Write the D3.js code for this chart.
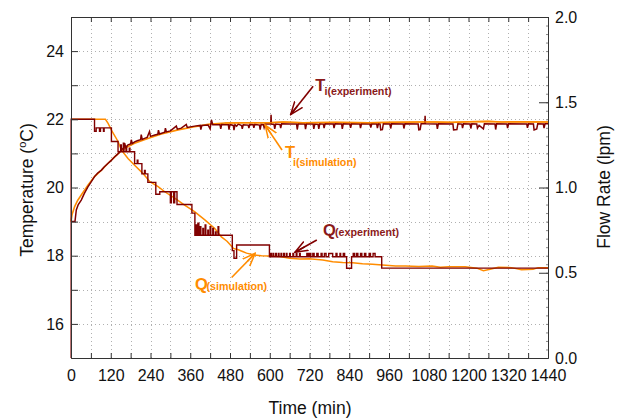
<!DOCTYPE html>
<html><head><meta charset="utf-8">
<script src="https://cdn.jsdelivr.net/npm/d3@7"></script>
<style>
body{margin:0;background:#fff;}
svg{display:block;font-family:"Liberation Sans",Arial,sans-serif;}
</style>
</head><body>
<svg id="chart" width="627" height="419"></svg>
<script>
// ---------- data ----------
const timeTicks = [0,120,240,360,480,600,720,840,960,1080,1200,1320,1440];
const timeMinor = [60,180,300,420,540,660,780,900,1020,1140,1260,1380];
const tempTicks = [16,18,20,22,24];
const tempMinor = [17,19,21,23];
const flowTicks = [0.0,0.5,1.0,1.5,2.0];

// Ti experiment (time min, temperature °C)
const tExp = [[0,19.0],[12,19.0],[16,19.34],[22,19.5],[31,19.63],[40,19.82],[51,20.02],[60,20.15],[71,20.32],[80,20.42],[92,20.51],[100,20.6],[112,20.71],[120,20.78],[132,20.9],[140,20.97],[152,21.1],[160,21.17],[162,21.3],[165,21.18],[172,21.25],[180,21.28],[182,21.4],[185,21.29],[192,21.34],[200,21.37],[210,21.4],[212,21.55],[215,21.41],[222,21.44],[230,21.47],[237,21.64],[240,21.5],[253,21.54],[262,21.56],[264,21.68],[267,21.57],[283,21.62],[285,21.74],[288,21.63],[300,21.66],[318,21.8],[321,21.71],[333,21.74],[348,21.85],[351,21.76],[373,21.8],[390,21.82],[392,21.7],[395,21.82],[414,21.83],[420,21.72],[424,21.98],[428,21.84],[450,21.84],[452,21.72],[455,21.85],[475,21.84],[477,21.7],[480,21.85],[490,21.82],[492,21.68],[495,21.84],[500,21.8],[505,21.86],[515,21.82],[517,21.72],[520,21.84],[535,21.83],[537,21.74],[540,21.85],[550,21.84],[552,21.75],[555,21.85],[569,21.83],[571,21.7],[574,21.85],[581,21.84],[583,21.76],[586,21.86],[603,21.86],[604,22.13],[605,21.86],[613,21.85],[615,21.72],[618,21.86],[631,21.85],[633,21.74],[636,21.87],[660,21.86],[681,21.86],[683,21.7],[686,21.87],[706,21.86],[708,21.71],[711,21.87],[731,21.86],[733,21.72],[736,21.86],[746,21.85],[748,21.72],[751,21.87],[762,21.86],[764,21.74],[767,21.87],[792,21.86],[794,21.74],[797,21.87],[817,21.86],[819,21.72],[822,21.87],[842,21.86],[844,21.75],[847,21.87],[872,21.86],[874,21.74],[877,21.87],[903,21.86],[905,21.76],[908,21.87],[923,21.86],[925,21.74],[928,21.87],[933,21.86],[935,21.69],[940,21.7],[943,21.87],[963,21.86],[965,21.73],[968,21.87],[1003,21.86],[1005,21.73],[1008,21.87],[1048,21.86],[1050,21.69],[1054,21.7],[1057,21.87],[1068,21.87],[1069,22.1],[1070,21.87],[1104,21.86],[1106,21.72],[1109,21.87],[1153,21.86],[1155,21.69],[1165,21.7],[1168,21.87],[1180,21.86],[1182,21.74],[1185,21.87],[1205,21.86],[1207,21.73],[1210,21.87],[1225,21.86],[1227,21.74],[1232,21.82],[1245,21.72],[1248,21.87],[1280,21.86],[1282,21.7],[1285,21.87],[1316,21.86],[1318,21.74],[1321,21.87],[1376,21.86],[1378,21.75],[1381,21.87],[1396,21.86],[1398,21.69],[1406,21.72],[1409,21.87],[1426,21.86],[1428,21.74],[1431,21.87],[1440,21.87]];

// Ti simulation
const tSim = [[0,19.0],[3,19.2],[11,19.44],[20,19.62],[31,19.78],[51,20.07],[71,20.32],[92,20.51],[112,20.71],[132,20.9],[152,21.08],[172,21.2],[192,21.3],[232,21.44],[273,21.57],[323,21.69],[373,21.78],[414,21.85],[464,21.89],[520,21.9],[600,21.9],[640,21.92],[700,21.9],[800,21.91],[900,21.9],[960,21.91],[1050,21.92],[1100,21.92],[1150,21.91],[1200,21.93],[1260,21.94],[1300,21.92],[1360,21.93],[1440,21.92]];

// Q experiment (time min, flow lpm) – step data
const qExp = [[0,0],[0.5,1.40],[71,1.33],[76,1.35],[86,1.33],[89,1.35],[98,1.33],[100,1.35],[122,1.27],[142,1.21],[150,1.25],[152,1.21],[158,1.26],[160,1.21],[166,1.24],[168,1.21],[176,1.23],[178,1.21],[192,1.14],[200,1.16],[202,1.14],[214,1.08],[222,1.10],[224,1.08],[232,1.03],[256,0.96],[268,0.975],[300,0.91],[303,0.975],[310,0.91],[313,0.975],[320,0.90],[365,0.85],[374,0.72],[377,0.78],[380,0.72],[383,0.79],[386,0.72],[390,0.77],[392,0.72],[398,0.76],[400,0.72],[405,0.78],[407,0.72],[413,0.75],[415,0.72],[420,0.77],[422,0.72],[428,0.76],[430,0.72],[436,0.74],[438,0.72],[444,0.77],[446,0.72],[487,0.63],[492,0.585],[500,0.663],[599,0.594],[603,0.613],[605,0.594],[610,0.613],[612,0.594],[618,0.613],[620,0.594],[626,0.613],[628,0.594],[634,0.613],[636,0.594],[642,0.613],[644,0.594],[650,0.613],[652,0.594],[660,0.613],[662,0.594],[670,0.613],[672,0.594],[680,0.613],[682,0.594],[690,0.613],[692,0.594],[712,0.613],[716,0.594],[720,0.613],[724,0.594],[730,0.613],[734,0.594],[742,0.613],[746,0.594],[755,0.613],[758,0.594],[765,0.613],[770,0.594],[778,0.613],[790,0.594],[800,0.613],[803,0.594],[812,0.613],[814,0.594],[822,0.613],[826,0.594],[832,0.526],[847,0.594],[852,0.613],[856,0.594],[862,0.613],[866,0.594],[874,0.613],[878,0.594],[886,0.613],[890,0.594],[900,0.613],[904,0.594],[912,0.613],[918,0.594],[938,0.527],[1440,0.527]];

// Q simulation
const qSim = [[0,1.40],[104,1.40],[112,1.376],[122,1.337],[142,1.27],[152,1.22],[172,1.17],[192,1.13],[217,1.083],[238,1.034],[263,1.005],[283,0.975],[313,0.937],[343,0.897],[373,0.858],[404,0.81],[434,0.76],[454,0.71],[471,0.685],[480,0.665],[490,0.643],[505,0.635],[518,0.625],[530,0.615],[550,0.605],[575,0.6],[600,0.598],[630,0.595],[660,0.585],[690,0.58],[720,0.582],[760,0.575],[790,0.565],[820,0.56],[850,0.558],[880,0.553],[910,0.55],[940,0.545],[980,0.54],[1010,0.54],[1050,0.537],[1090,0.54],[1115,0.532],[1140,0.535],[1190,0.535],[1225,0.527],[1245,0.512],[1265,0.52],[1290,0.532],[1330,0.53],[1360,0.518],[1395,0.52],[1410,0.53],[1440,0.53]];

// annotations (data coordinates: time, temperature)
const annotations = [
  {main:"T", sub:"i(experiment)", color:"#8b1a1a", line:"#800000", tx:737, ty:22.83, sx:765, sy:22.72, from:[731,22.97], to:[663,22.14]},
  {main:"T", sub:"i(simulation)", color:"#ff8c00", line:"#ff8c00", tx:646, ty:20.87, sx:670, sy:20.63, from:[637,21.1], to:[586,21.83]},
  {main:"Q", sub:"(experiment)", color:"#8b1a1a", line:"#800000", tx:761, ty:18.58, sx:797, sy:18.58, from:[742,18.46], to:[676,18.10]},
  {main:"Q", sub:"(simulation)", color:"#ff8c00", line:"#ff8c00", tx:374, ty:17.0, sx:409, sy:16.99, from:[485,17.36], to:[556,18.07]}
];

// ---------- layout ----------
const L = 71, R = 548, T = 17, B = 358;
const svg = d3.select("#chart");
const x = d3.scaleLinear().domain([0,1440]).range([L,R]);
const yT = d3.scaleLinear().domain([15,25]).range([B,T]);
const yQ = d3.scaleLinear().domain([0,2]).range([B,T]);

const darkRed = "#800000", orange = "#ff8c00";

// grid
const grid = svg.append("g").attr("stroke","#b0b0b0").attr("stroke-width",1).attr("stroke-dasharray","1,3");
timeTicks.concat(timeMinor).filter(d=>d>0&&d<1440).forEach(d=>{
  grid.append("line").attr("x1",Math.round(x(d))+0.5).attr("x2",Math.round(x(d))+0.5).attr("y1",T).attr("y2",B);
});
tempTicks.concat(tempMinor).forEach(d=>{
  grid.append("line").attr("x1",L).attr("x2",R).attr("y1",Math.round(yT(d))+0.5).attr("y2",Math.round(yT(d))+0.5);
});

// lines
const lineT = d3.line().x(d=>x(d[0])).y(d=>yT(d[1]));
const lineQ = d3.line().x(d=>x(d[0])).y(d=>yQ(d[1]));
const lineQstep = d3.line().x(d=>x(d[0])).y(d=>yQ(d[1])).curve(d3.curveStepAfter);

const plot = svg.append("g");
plot.append("path").datum(qSim).attr("d",lineQ).attr("fill","none").attr("stroke",orange).attr("stroke-width",1.5);
plot.append("path").datum(tSim).attr("d",lineT).attr("fill","none").attr("stroke",orange).attr("stroke-width",1.6);
plot.append("path").datum(qExp).attr("d",lineQstep).attr("fill","none").attr("stroke",darkRed).attr("stroke-width",1.4);
plot.append("path").datum(tExp).attr("d",lineT).attr("fill","none").attr("stroke",darkRed).attr("stroke-width",1.5);
plot.append("path").datum(tSim.filter(d=>d[0]>=420)).attr("d",lineT).attr("fill","none").attr("stroke",orange).attr("stroke-width",1.4).attr("stroke-opacity",0.85);

// axes
const axisColor = "#333";
const fmtT = d => (tempTicks.includes(d) ? d : "");
const fmtX = d => (timeTicks.includes(d) ? d : "");
const allTime = timeTicks.concat(timeMinor).sort((a,b)=>a-b);

const gx = svg.append("g").attr("transform",`translate(0,${B})`)
  .call(d3.axisBottom(x).tickValues(allTime).tickFormat(fmtX).tickSizeInner(-5).tickSizeOuter(0).tickPadding(12));
const gxt = svg.append("g").attr("transform",`translate(0,${T})`)
  .call(d3.axisTop(x).tickValues(allTime).tickFormat("").tickSizeInner(-5).tickSizeOuter(0));
const gy = svg.append("g").attr("transform",`translate(${L},0)`)
  .call(d3.axisLeft(yT).tickValues(tempTicks.concat(tempMinor)).tickFormat(fmtT).tickSizeInner(-7).tickSizeOuter(0).tickPadding(7));
const minorFlow = d3.range(0,2.0001,0.05);
const gyrm = svg.append("g").attr("transform",`translate(${R},0)`)
  .call(d3.axisRight(yQ).tickValues(minorFlow).tickFormat("").tickSizeInner(-2).tickSizeOuter(0));
const gyr = svg.append("g").attr("transform",`translate(${R},0)`)
  .call(d3.axisRight(yQ).tickValues(flowTicks).tickFormat(d3.format(".1f")).tickSizeInner(-9).tickSizeOuter(0).tickPadding(7));

[gx,gxt,gy,gyr,gyrm].forEach(g=>{
  g.selectAll("path.domain").attr("stroke",axisColor).attr("stroke-width",1);
  g.selectAll(".tick line").attr("stroke",axisColor).attr("stroke-width",1);
  g.selectAll("text").attr("font-size",16).attr("fill","#111").attr("font-family","Liberation Sans, Arial, sans-serif");
});
gyrm.selectAll(".tick line").attr("stroke","#888");

// axis titles
svg.append("text").attr("x",310).attr("y",414).attr("text-anchor","middle").attr("font-size",17.5).attr("fill","#111").text("Time (min)");
const yl = svg.append("text").attr("transform","translate(33,190) rotate(-90)").attr("text-anchor","middle").attr("font-size",17.5).attr("fill","#111");
yl.append("tspan").text("Temperature (");
yl.append("tspan").attr("font-size",11).attr("dy",-7).text("o");
yl.append("tspan").attr("dy",7).text("C)");
svg.append("text").attr("transform","translate(610,187) rotate(-90)").attr("text-anchor","middle").attr("font-size",17.5).attr("fill","#111").text("Flow Rate (lpm)");

// annotations
const defs = svg.append("defs");
[["arrRed",darkRed],["arrOrange",orange]].forEach(([id,c])=>{
  defs.append("marker").attr("id",id).attr("viewBox","0 -6 14 12").attr("refX",13).attr("refY",0)
    .attr("markerWidth",14).attr("markerHeight",12).attr("markerUnits","userSpaceOnUse").attr("orient","auto")
    .append("path").attr("d","M0,-5 L13,0 L0,5 M2,0 L13,0").attr("fill","none").attr("stroke",c).attr("stroke-width",1.5);
});
const ann = svg.append("g");
annotations.forEach(a=>{
  ann.append("line").attr("x1",x(a.from[0])).attr("y1",yT(a.from[1])).attr("x2",x(a.to[0])).attr("y2",yT(a.to[1]))
    .attr("stroke",a.line).attr("stroke-width",1.6).attr("marker-end",`url(#${a.line===orange?"arrOrange":"arrRed"})`);
  ann.append("text").attr("x",x(a.tx)).attr("y",yT(a.ty)).attr("font-size",16.5).attr("font-weight","bold").attr("fill",a.color).text(a.main);
  ann.append("text").attr("x",x(a.sx)).attr("y",yT(a.sy)).attr("font-size",10.7).attr("font-weight","bold").attr("fill",a.color).text(a.sub);
});
</script>
</body></html>
